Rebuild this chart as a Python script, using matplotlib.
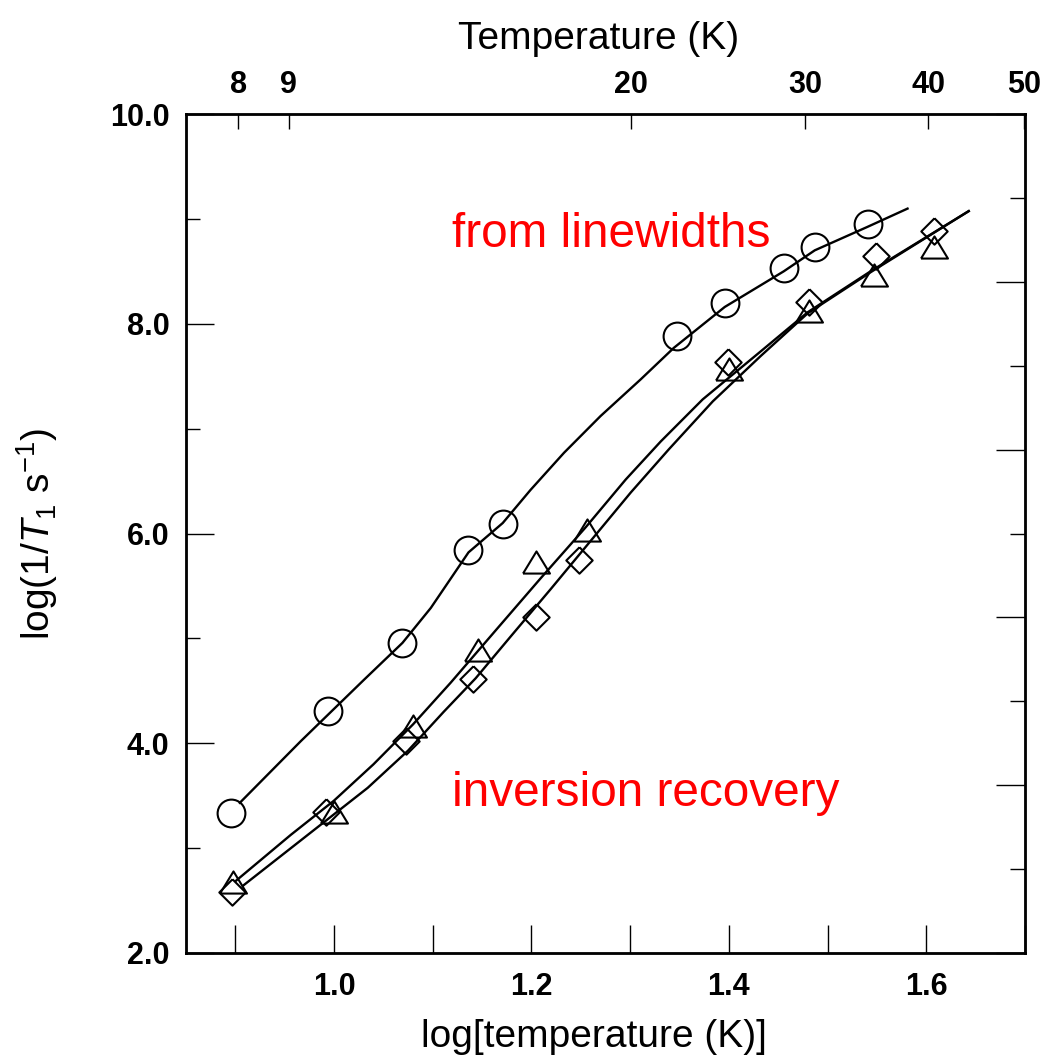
import numpy as np
import matplotlib
matplotlib.use("Agg")
import matplotlib.pyplot as plt

plt.rcParams['font.family'] = ['Liberation Sans', 'DejaVu Sans']
plt.rcParams['mathtext.fontset'] = 'custom'
plt.rcParams['mathtext.rm'] = 'Liberation Sans'
plt.rcParams['mathtext.it'] = 'Liberation Sans:italic'
plt.rcParams['mathtext.bf'] = 'Liberation Sans:bold'

# ---- data: log10(T / K) and log10(1/T1 / s^-1) ----
lw_x = [0.896, 0.994, 1.069, 1.136, 1.171, 1.347, 1.396, 1.456, 1.487, 1.541]
lw_y = [3.337, 4.304, 4.957, 5.838, 6.086, 7.884, 8.202, 8.528, 8.730, 8.950]

tri_x = [0.898, 1.000, 1.080, 1.146, 1.205, 1.256, 1.400, 1.481, 1.547, 1.608]
tri_y = [2.678, 3.349, 4.160, 4.885, 5.726, 6.031, 7.564, 8.119, 8.463, 8.728]

dia_x = [0.897, 0.992, 1.073, 1.141, 1.205, 1.248, 1.399, 1.481, 1.549, 1.608]
dia_y = [2.582, 3.346, 4.024, 4.613, 5.201, 5.745, 7.632, 8.210, 8.642, 8.888]

# fitted curves
fit_lw_x = [0.9045, 0.9663, 1.0304, 1.0693, 1.0980, 1.1362, 1.1709, 1.1990,
            1.2330, 1.2700, 1.3107, 1.3442, 1.3958, 1.4556, 1.4870, 1.5407, 1.5810]
fit_lw_y = [3.432, 4.020, 4.606, 4.957, 5.290, 5.820, 6.100, 6.415,
            6.770, 7.120, 7.470, 7.770, 8.160, 8.500, 8.700, 8.925, 9.098]

fit_tri_x = [0.9004, 0.9561, 0.9997, 1.0400, 1.0800, 1.1182, 1.1650, 1.2094,
             1.2550, 1.2955, 1.3310, 1.3735, 1.4323, 1.4799, 1.5437, 1.6430]
fit_tri_y = [2.687, 3.126, 3.451, 3.800, 4.180, 4.578, 5.090, 5.574,
             6.060, 6.515, 6.878, 7.279, 7.737, 8.110, 8.501, 9.074]

fit_dia_x = [0.9075, 0.9663, 1.0341, 1.0750, 1.1111, 1.1435, 1.1800, 1.2195,
             1.2600, 1.3006, 1.3391, 1.3837, 1.4323, 1.4799, 1.5437, 1.6430]
fit_dia_y = [2.640, 3.074, 3.575, 3.930, 4.300, 4.620, 5.030, 5.470,
             5.930, 6.391, 6.802, 7.260, 7.693, 8.100, 8.492, 9.074]

top_temps = [8, 9, 20, 30, 40, 50]
bottom_major = [1.0, 1.2, 1.4, 1.6]
bottom_minor = [0.9, 1.1, 1.3, 1.5, 1.7]
left_major = [2.0, 4.0, 6.0, 8.0, 10.0]
left_minor = [3.0, 5.0, 7.0, 9.0]

# ---- figure ----
fig = plt.figure(figsize=(10.42, 10.55), dpi=100)
ax = fig.add_axes([186/1042, 1 - 953/1055, (1025 - 186)/1042, (953 - 114)/1055])

tri_marker = [(-14, -11.5), (14, -11.5), (0, 11.5), (-14, -11.5)]
dia_marker = [(0, 1), (1, 0), (0, -1), (-1, 0), (0, 1)]

lc = 'black'
ax.plot(fit_lw_x, fit_lw_y, color=lc, lw=1.7, zorder=2)
ax.plot(fit_tri_x, fit_tri_y, color=lc, lw=1.7, zorder=2)
ax.plot(fit_dia_x, fit_dia_y, color=lc, lw=1.7, zorder=2)

ax.plot(lw_x, lw_y, ls='none', marker='o', ms=20, mfc='none', mec=lc, mew=1.5, zorder=3)
ax.plot(tri_x, tri_y, ls='none', marker=tri_marker, ms=19.4, mfc='none', mec=lc, mew=1.5, zorder=3)
ax.plot(dia_x, dia_y, ls='none', marker=dia_marker, ms=19.0, mfc='none', mec=lc, mew=1.5, zorder=3)

ax.set_xlim(0.85, 1.70)
ax.set_ylim(2.0, 10.0)

ax.set_xticks(bottom_major)
ax.set_xticks(bottom_minor, minor=True)
ax.set_xticklabels([f"{v:.1f}" for v in bottom_major])
ax.set_yticks(left_major)
ax.set_yticks(left_minor, minor=True)
ax.set_yticklabels([f"{v:.1f}" for v in left_major])

ax.tick_params(axis='x', which='both', direction='in', length=20, width=1.0,
               labelsize=22, pad=14)
ax.tick_params(axis='y', which='major', direction='in', length=20, width=1.0,
               labelsize=22, pad=12)
ax.tick_params(axis='y', which='minor', direction='in', length=10, width=1.0)
for lab in ax.get_xticklabels() + ax.get_yticklabels():
    lab.set_fontweight('bold')

for s in ax.spines.values():
    s.set_linewidth(2.0)

ax.set_xlabel('log[temperature (K)]', fontsize=28, labelpad=12, x=0.486)
ax.set_ylabel(r'log(1/$\mathit{T}_1$ s$^{-1}$)', fontsize=28, labelpad=36)

# top axis: temperature in K
axt = ax.twiny()
axt.set_xlim(ax.get_xlim())
axt.set_xticks(np.log10(top_temps))
axt.set_xticklabels([str(t) for t in top_temps])
axt.tick_params(axis='x', which='major', direction='in', length=11, width=1.0,
                labelsize=22, pad=10)
for lab in axt.get_xticklabels():
    lab.set_fontweight('bold')
axt.set_xlabel('Temperature (K)', fontsize=28, labelpad=15, x=0.492)

# right axis (unlabelled)
axr = ax.twinx()
axr.set_ylim(0, 10)
axr.set_yticks([0, 2, 4, 6, 8, 10])
axr.set_yticks([1, 3, 5, 7, 9], minor=True)
axr.set_yticklabels([])
axr.tick_params(axis='y', which='major', direction='in', length=21, width=1.0)
axr.tick_params(axis='y', which='minor', direction='in', length=11, width=1.0)

ax.text(1.1192, 8.730, 'from linewidths', color='red', fontsize=34.4, va='baseline', ha='left')
ax.text(1.1192, 3.397, 'inversion recovery', color='red', fontsize=34.4, va='baseline', ha='left')

fig.savefig('out.png', dpi=100)
